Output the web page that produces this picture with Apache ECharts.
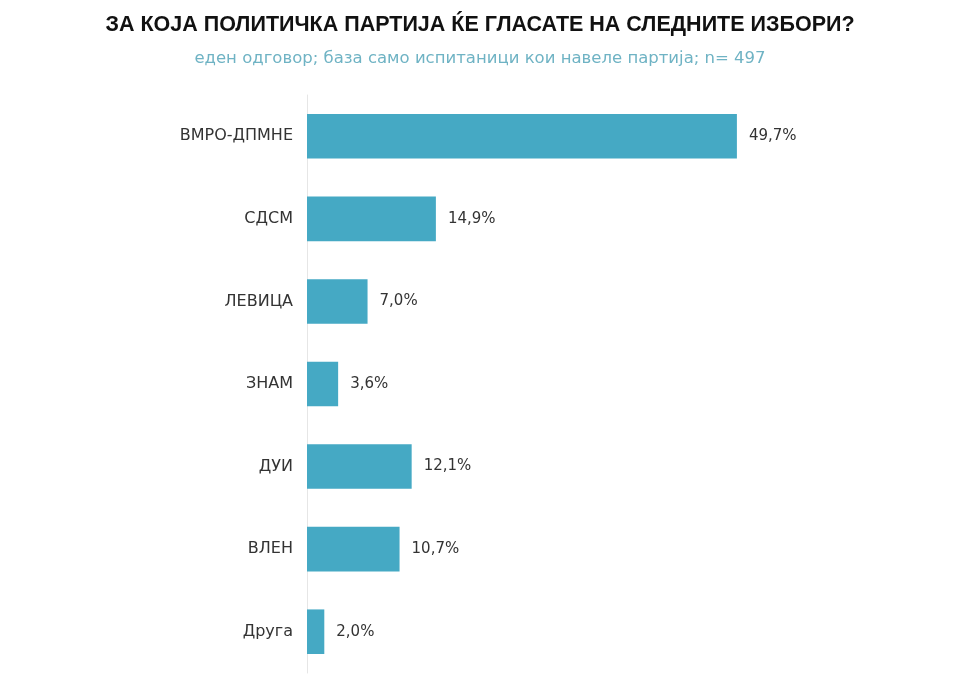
<!DOCTYPE html>
<html>
<head>
<meta charset="utf-8">
<script src="https://cdn.jsdelivr.net/npm/echarts@6/dist/echarts.min.js"></script>
<style>
  html, body { margin: 0; padding: 0; background: #fff; }
  #chart { width: 960px; height: 680px; }
</style>
</head>
<body>
<div id="chart"></div>
<script>
var parties = ["ВМРО-ДПМНЕ", "СДСМ", "ЛЕВИЦА", "ЗНАМ", "ДУИ", "ВЛЕН", "Друга"];
var shares = [49.7, 14.9, 7.0, 3.6, 12.1, 10.7, 2.0];

var chart = echarts.init(document.getElementById("chart"));
var option = {
  backgroundColor: "#fff",
  title: [
    {
      text: "ЗА КОЈА ПОЛИТИЧКА ПАРТИЈА ЌЕ ГЛАСАТЕ НА СЛЕДНИТЕ ИЗБОРИ?",
      left: "center",
      top: 9,
      textStyle: {
        fontFamily: "Liberation Sans",
        fontWeight: "bold",
        fontSize: 21.5,
        color: "#111"
      }
    },
    {
      text: "еден одговор; база само испитаници кои навеле партија; n= 497",
      left: "center",
      top: 45,
      textStyle: {
        fontFamily: "DejaVu Sans",
        fontWeight: "normal",
        fontSize: 16.5,
        color: "#6fb3c4"
      }
    }
  ],
  grid: {
    left: 307,
    width: 519,
    top: 95,
    bottom: 7
  },
  xAxis: {
    type: "value",
    min: 0,
    max: 60,
    show: false
  },
  yAxis: {
    type: "category",
    data: parties,
    inverse: true,
    axisLine: { show: true, lineStyle: { color: "#e6e6e6", width: 1 } },
    axisTick: { show: false },
    axisLabel: {
      margin: 14,
      fontFamily: "DejaVu Sans",
      fontSize: 16,
      color: "#333"
    }
  },
  series: [
    {
      type: "bar",
      data: shares,
      barCategoryGap: "46%",
      itemStyle: { color: "#45a9c4" },
      label: {
        show: true,
        position: "right",
        distance: 12,
        fontFamily: "DejaVu Sans",
        fontSize: 15,
        color: "#333",
        formatter: function (p) {
          return p.value.toFixed(1).replace(".", ",") + "%";
        }
      }
    }
  ]
};
chart.setOption(option);
</script>
</body>
</html>
